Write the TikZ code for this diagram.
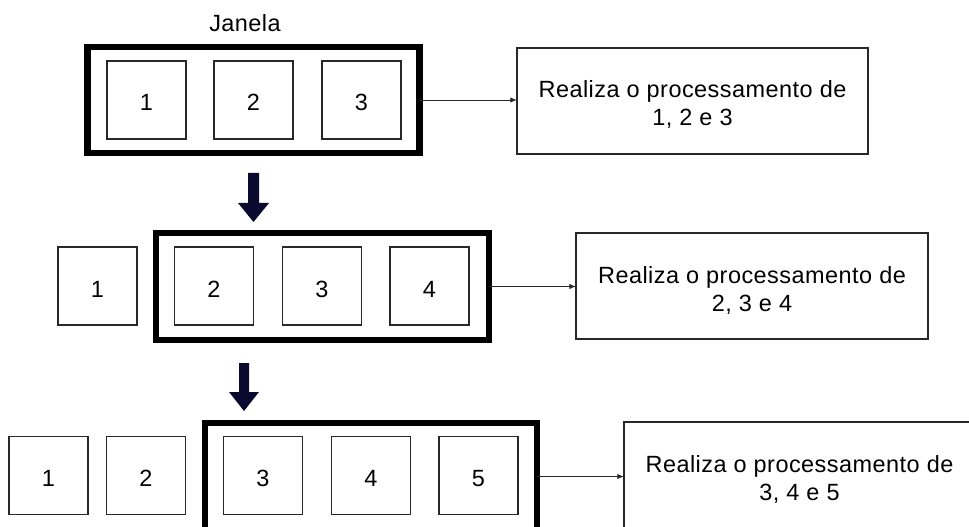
\documentclass[tikz,border=0pt]{standalone}
\usepackage{fontspec}
\setmainfont{Liberation Sans}[LetterSpace=2]
\usetikzlibrary{arrows.meta}

% one drawing unit = one pixel of the 969 x 527 canvas
\newcommand\pxu{0.75pt}
\definecolor{navy}{RGB}{10,10,48}
\definecolor{edge}{RGB}{40,40,40}

\tikzset{
  every node/.style={inner sep=0pt, outer sep=0pt,
    font=\fontsize{17.6}{21}\selectfont},
  cell/.style={draw=edge, line width=0.8pt, fill=white,
    minimum width=79*\pxu, minimum height=78*\pxu,
    text height=16.5pt, text depth=0pt},
  window/.style={draw=black, line width=4.6pt,
    minimum width=332*\pxu, minimum height=106*\pxu},
  result/.style={draw=edge, line width=1.1pt,
    minimum width=351*\pxu, minimum height=106*\pxu},
  caption/.style={align=center},
  link/.style={draw=edge, line width=0.7pt,
    -{Latex[length=5pt,width=4pt]}},
  slide/.style={fill=navy},
}

\begin{document}
\begin{tikzpicture}[x=\pxu, y=-\pxu]
  \useasboundingbox (0,0) rectangle (969,527);
  \clip (0,0) rectangle (969,527);

  % ---- first position of the window: items 1, 2, 3
  \node[window] (w1) at (253.5,100) {};
  \node (lbl) at (245,23) {Janela};
  \node[cell] (a1) at (146.5,100) {1};
  \node[cell] (a2) at (253.5,100) {2};
  \node[cell] (a3) at (361.5,100) {3};
  \node[result] (p1) at (692.5,101) {};
  \node[caption] (t1) at ([yshift=-3pt]p1.center) {Realiza o processamento de\\1, 2 e 3};
  \draw[link] (w1.east) -- (w1.east -| p1.west);

  % ---- window moved one step: items 2, 3, 4
  \node[window, minimum width=333*\pxu, minimum height=107*\pxu] (w2) at (322.5,286.5) {};
  \node[cell] (b1) at (97.5,286) {1};
  \node[cell] (b2) at (214,286) {2};
  \node[cell] (b3) at (322,286) {3};
  \node[cell] (b4) at (429.5,286) {4};
  \node[result, minimum width=352*\pxu] (p2) at (752,286) {};
  \node[caption] (t2) at ([yshift=-3pt]p2.center) {Realiza o processamento de\\2, 3 e 4};
  \draw[link] (w2.east) -- (w2.east -| p2.west);

  % ---- window moved again: items 3, 4, 5
  \node[window, minimum height=107*\pxu] (w3) at (371,476.5) {};
  \node[cell] (c1) at (48.5,475.5) {1};
  \node[cell] (c2) at (146,475.5) {2};
  \node[cell] (c3) at (263,475.5) {3};
  \node[cell] (c4) at (371,475.5) {4};
  \node[cell] (c5) at (478.5,475.5) {5};
  \node[result] (p3) at (799.5,475) {};
  \node[caption] (t3) at ([yshift=-3pt]p3.center) {Realiza o processamento de\\3, 4 e 5};
  \draw[link] (w3.east) -- (w3.east -| p3.west);

  % ---- block arrows showing the window sliding down a row
  \fill[slide] (248,173) -- (259,173) -- (259,203) -- (269,203)
               -- (253.5,222) -- (238,203) -- (248,203) -- cycle;
  \fill[slide] (239,363) -- (249,363) -- (249,392) -- (259,392)
               -- (244,411) -- (229,392) -- (239,392) -- cycle;
\end{tikzpicture}
\end{document}
